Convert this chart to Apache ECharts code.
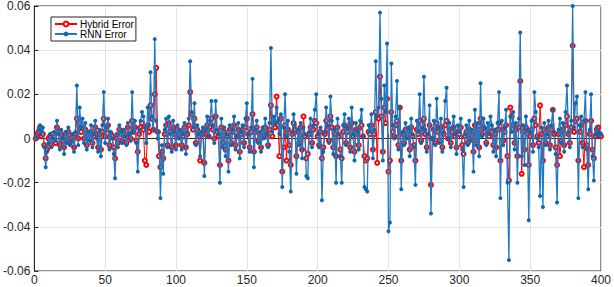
<!DOCTYPE html>
<html><head><meta charset="utf-8">
<script src="https://cdn.jsdelivr.net/npm/echarts@6/dist/echarts.min.js"></script>
<style>html,body{margin:0;padding:0;background:#fff}#c{width:614px;height:287px}</style>
</head><body><div id="c"></div>
<script>
const xTicks = [0,50,100,150,200,250,300,350,400];
const yTicks = [-0.06,-0.04,-0.02,0,0.02,0.04,0.06];
const seriesNames = ["Hybrid Error","RNN Error"];
const hybridError = [
0,0.002,0.003,0.005,0.001,0.002,-0.003,-0.009,-0.005,0,
0.001,-0.003,0.002,0.001,-0.002,0.005,0.003,-0.003,0.002,-0.001,
-0.004,0.001,0,0.003,-0.002,0,0.001,-0.004,0.002,0.009,
0,0.007,0.003,0.005,0,0.004,-0.003,0.002,0,0.003,
-0.002,0.001,0.005,0.002,-0.004,0.002,-0.005,0.003,0.009,0.001,
0.004,0.006,-0.003,0.002,0.001,-0.004,-0.009,0,-0.002,0.004,
0.002,-0.001,0.003,0,-0.002,0.005,0.002,0,0.008,0.003,
0.005,-0.001,-0.006,0.002,0.005,0.007,0.004,-0.010,-0.012,0.006,
0.003,0.015,0.009,0.004,0.020,0.032,0.003,-0.008,-0.013,-0.006,
-0.009,0.002,0.006,-0.003,0.007,0.003,-0.004,0.005,0.002,-0.003,
0.004,0.001,0.003,-0.003,0.001,0.005,-0.004,0.002,0.006,0.021,
0.011,0.004,0.009,-0.002,0.004,0.001,-0.010,0.002,0.003,-0.011,
0.002,0.006,0.001,0.005,0.009,0.004,0,0.010,0.003,0.001,
-0.012,0.005,-0.002,0.003,-0.005,0.001,-0.010,0.004,-0.002,0.003,
0.006,-0.003,0.001,0.004,-0.006,0.002,0.004,-0.002,0.005,0.009,
0.002,-0.004,0.003,0.011,-0.006,0.003,0.005,-0.001,0.002,-0.004,
0.003,0.001,0.005,0.002,-0.003,0.004,0.015,0.001,0.007,0.005,
0.019,0.006,-0.008,0.009,-0.015,-0.004,0.006,-0.010,0.004,-0.003,
-0.012,0.002,0.007,0.004,-0.008,0.003,-0.002,0.005,-0.005,0.010,
0.001,-0.009,-0.007,0.002,0.005,-0.002,0.004,0.008,0.007,0.001,
-0.003,0.003,-0.009,-0.004,0.002,0.008,0.004,-0.001,0.010,0.005,
-0.004,0.002,-0.008,0.005,0.001,-0.005,-0.009,0.003,0.006,-0.002,
0.003,0.005,-0.004,0.007,0.001,-0.006,0.004,0.002,-0.003,0.005,
0.006,0.001,-0.008,-0.010,-0.009,0.003,0.002,0.006,-0.005,0.002,
0.012,-0.011,0.009,0.028,0.010,-0.006,0.014,0.007,0.018,-0.015,
-0.010,0.012,0.003,0.001,0.006,0.008,-0.003,0.014,-0.010,0.002,
-0.002,0.004,0.001,0.003,-0.005,0.005,0.001,-0.003,-0.010,0.004,
0.002,0.008,-0.001,0.003,0.009,0.002,-0.004,0.001,0.006,-0.021,
0,0.004,-0.002,0.007,0.003,-0.001,0.005,-0.004,0.002,0.006,
0.008,0,0.004,-0.002,0.003,0.005,0.001,-0.004,0.003,0.002,
0.005,-0.003,-0.007,0.001,0.003,-0.002,0.004,0,0.002,-0.006,
0.006,-0.001,0.004,-0.004,0.009,0.002,0.005,0.003,-0.002,0.004,
0.001,0.005,0.003,-0.003,0.002,-0.004,0.004,0.007,-0.010,0.004,
-0.001,0.003,0.006,-0.008,-0.019,0.014,0.010,0.006,-0.002,0.004,
-0.008,0.005,0.026,-0.016,0.003,-0.005,0.005,0.002,-0.012,0.001,
0.004,-0.003,0.009,0.006,0.001,-0.002,0.015,0.002,-0.010,0.004,
-0.002,0.001,0.005,-0.003,0.004,0.013,0.002,-0.004,-0.012,0.002,
-0.008,-0.001,0.004,-0.003,0.006,0.010,0.002,-0.002,0.005,0.042,
0.003,0.008,0.009,-0.010,0.003,0.006,-0.002,-0.013,0.008,-0.003,
-0.012,0.002,0.008,-0.005,-0.009,0.001,0.004,0.005,0.002,0.001
];
const rnnError = [
0.001,0,0.004,0.006,0.003,0.005,-0.004,-0.013,-0.006,-0.002,
0.002,-0.004,0,0.003,-0.001,0.008,0.002,-0.005,0.004,0,
-0.007,0.003,-0.002,0.005,-0.003,-0.001,0.002,-0.006,0.003,0.024,
-0.003,0.014,0.005,0.009,-0.002,0.007,-0.005,0.003,-0.001,0.006,
-0.004,0.002,0.008,0,-0.006,0.004,-0.008,0.006,0.021,-0.002,
0.005,0.009,-0.005,0.003,0,-0.007,-0.018,0.002,-0.004,0.006,
0.003,-0.002,0.004,0.001,-0.003,0.007,0.002,-0.001,0.021,0.003,
0.008,-0.002,-0.015,0.004,0.008,0.012,0.010,0.005,-0.002,0.014,
0.006,0.030,0.010,0.004,0.045,0.008,0,0.003,-0.027,-0.003,
-0.016,0.004,0.009,-0.004,0.010,0.002,-0.006,0.008,0.003,-0.005,
0.006,0,0.004,-0.005,0.002,0.007,-0.007,0.003,0.009,0.035,
0.012,0.005,0.016,-0.003,0.006,0.002,-0.008,0.003,0.005,-0.017,
0.004,0.010,0.001,0.008,0.017,0.006,-0.002,0.017,0.004,0.002,
-0.020,0.009,-0.004,0.005,-0.008,0.002,-0.015,0.006,-0.003,0.004,
0.010,-0.005,0.001,0.007,-0.009,0.003,0.006,-0.004,0.009,0.016,
0.002,-0.006,0.005,0.027,-0.013,0.004,0.008,-0.002,0.003,-0.006,
0.005,0,0.009,0.002,-0.004,0.007,0.041,0.003,0.010,0.007,
0.014,0.008,0.002,0.011,-0.022,0.005,0.020,0.001,0.008,-0.006,
-0.024,0.003,0.011,0.006,-0.016,0.004,-0.003,0.007,-0.009,0.005,
0.002,-0.017,-0.018,0.003,0.009,-0.004,0.006,0.013,0.020,0.002,
-0.004,0.005,-0.028,-0.006,0.003,0.014,0.006,-0.002,0.019,0.008,
-0.007,0.004,-0.020,0.009,0.002,-0.008,-0.020,0.006,0.011,-0.003,
0.005,0.009,-0.006,0.014,0.002,-0.010,0.007,0.003,-0.005,0.008,
0.013,0.001,-0.022,-0.023,-0.024,0.006,0.003,0.011,-0.009,0.004,
0.035,0.010,0.014,0.057,0.018,-0.010,0.024,0.012,0.043,-0.042,
-0.038,0.034,0.006,0,0.010,0.026,-0.005,0.014,-0.023,0.003,
-0.003,0.007,0,0.005,-0.008,0.009,0.002,-0.004,-0.021,0.008,
0.003,0.020,-0.002,0.005,0.028,0.004,-0.006,0.002,0.015,-0.034,
0,0.008,-0.003,0.018,0.005,-0.002,0.009,-0.006,0.003,0.017,
0.023,0,0.007,-0.004,0.005,0.010,0.002,-0.007,0.006,0.003,
0.009,-0.005,-0.022,0.002,0.006,-0.003,0.008,-0.001,0.004,-0.015,
0.013,-0.003,0.007,-0.008,0.025,0.001,0.009,0.005,-0.003,0.007,
0.002,0.010,0.006,-0.006,0.004,-0.008,0.007,0.021,-0.027,0.008,
-0.003,0.005,0.013,-0.020,-0.055,0.010,0.003,0.012,-0.005,0.007,
-0.020,0.009,0.048,-0.008,0.006,-0.012,0.010,0.004,-0.037,0.003,
0.008,-0.006,0.021,0.012,0,-0.004,-0.026,0.005,-0.031,0.007,
-0.003,0.002,0.008,-0.005,0.006,0.013,0.003,-0.007,-0.029,0.004,
0.009,-0.002,0.007,-0.006,0.012,0.024,0.003,-0.004,0.008,0.060,
0.005,0.016,0.019,-0.027,0.006,0.010,-0.004,0.008,0.021,-0.005,
-0.023,0.004,0.020,-0.008,-0.019,0.002,0.005,0.003,0.001,0.002
];
const xs = hybridError.map((_, i) => i + 1);
const chart = echarts.init(document.getElementById('c'), null, {renderer: 'svg'});
const font = 'Liberation Sans, Arial, Helvetica, sans-serif';
const axisCommon = {
  axisLine: {show: true, lineStyle: {color: '#262626', width: 1}},
  axisTick: {show: true, inside: true, length: 4, lineStyle: {color: '#262626'}},
  splitLine: {show: true, lineStyle: {color: '#e3e3e3', width: 1}},
  axisLabel: {color: '#262626', fontSize: 12, fontFamily: font}
};
chart.setOption({
  animation: false,
  backgroundColor: '#ffffff',
  grid: {left: 34, right: 11, top: 6, bottom: 16, show: true, borderColor: '#262626', borderWidth: 1, containLabel: false},
  legend: {
    data: seriesNames,
    orient: 'vertical',
    left: 51, top: 17,
    backgroundColor: '#ffffff',
    borderColor: '#262626', borderWidth: 1, borderRadius: 0,
    padding: [2, 2, 2, 3],
    itemGap: 0, itemWidth: 22, itemHeight: 6,
    textStyle: {fontSize: 10, lineHeight: 10, fontFamily: font, color: '#000', padding: [0,0,0,-2]}
  },
  xAxis: Object.assign({}, axisCommon, {
    type: 'value', min: xTicks[0], max: xTicks[xTicks.length-1], interval: 50,
    axisLabel: Object.assign({}, axisCommon.axisLabel, {margin: 3})
  }),
  yAxis: Object.assign({}, axisCommon, {
    type: 'value', min: yTicks[0], max: yTicks[yTicks.length-1], interval: 0.02,
    axisLabel: Object.assign({}, axisCommon.axisLabel, {margin: 4})
  }),
  series: [
    {
      name: seriesNames[0], type: 'line', z: 2,
      data: xs.map((x, i) => [x, hybridError[i]]),
      symbol: 'emptyCircle', symbolSize: 4, showAllSymbol: true,
      sampling: null, large: false, progressive: 0,
      lineStyle: {color: '#ff0000', width: 1, type: 'solid'},
      itemStyle: {color: '#ff0000', borderWidth: 0.8}
    },
    {
      name: seriesNames[1], type: 'line', z: 3,
      data: xs.map((x, i) => [x, rnnError[i]]),
      symbol: 'circle', symbolSize: 4, showAllSymbol: true,
      sampling: null, large: false, progressive: 0,
      lineStyle: {color: '#1f7ac4', width: 1.3, type: 'solid'},
      itemStyle: {color: '#0a68b2'}
    }
  ]
});
</script>
</body></html>
